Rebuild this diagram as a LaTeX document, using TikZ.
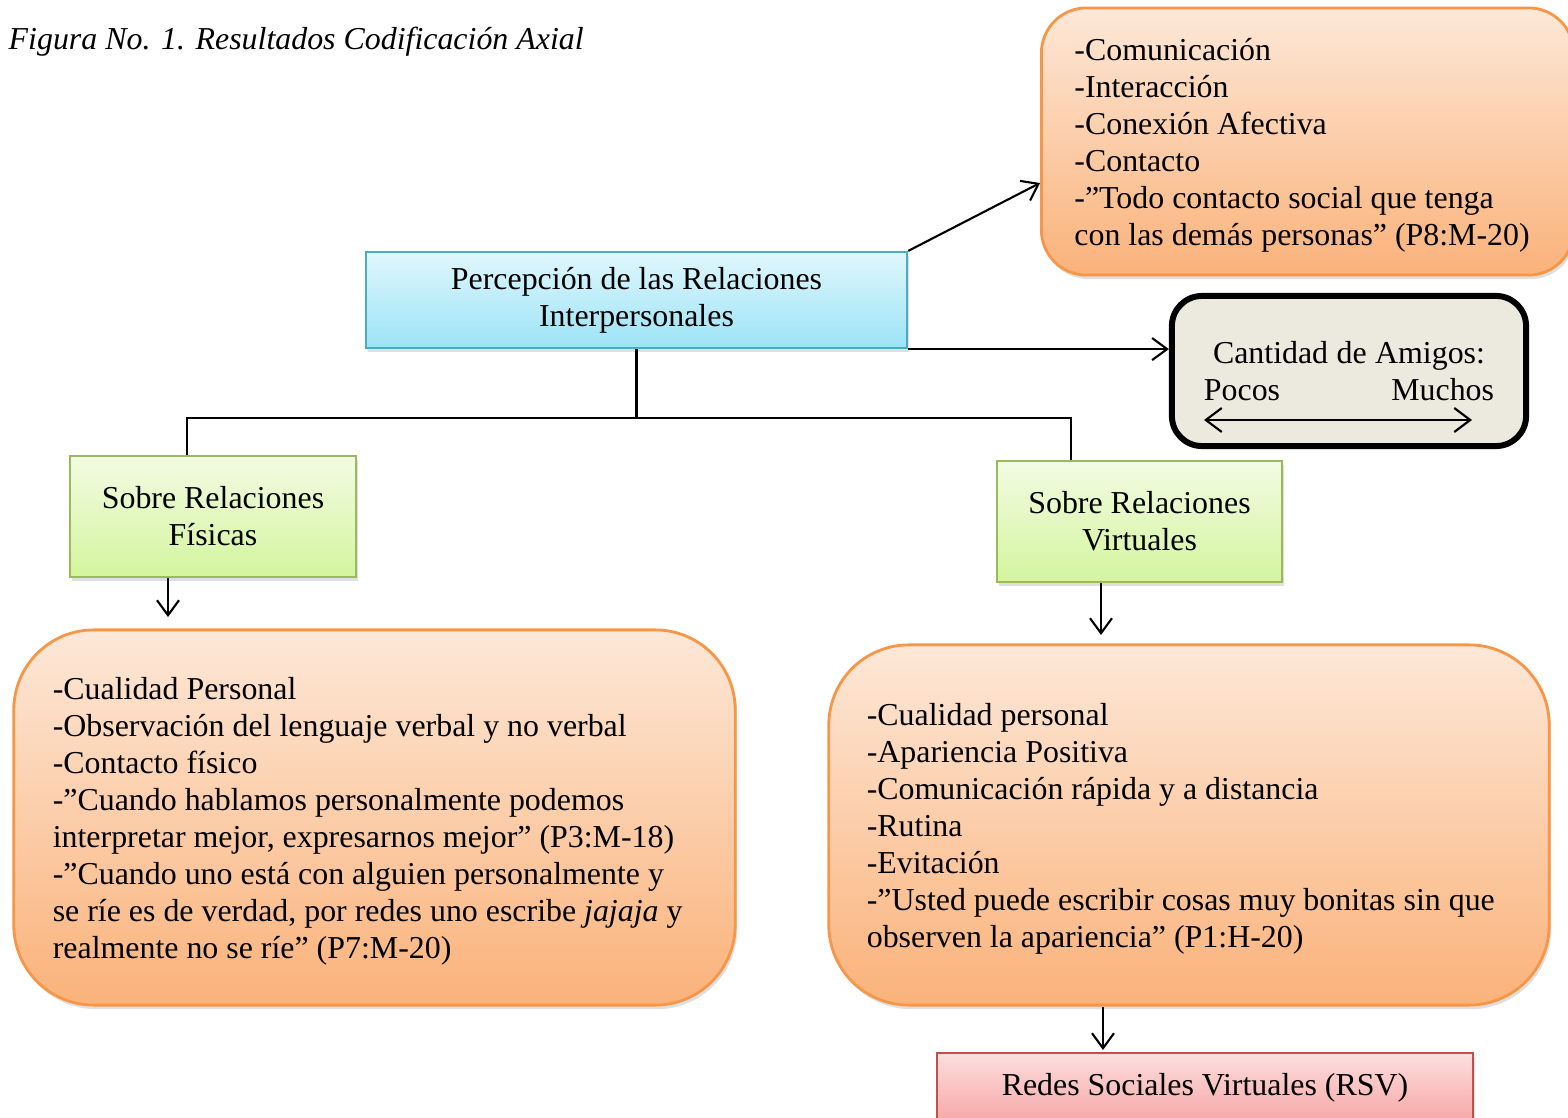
\documentclass[tikz,border=0pt]{standalone}
\usepackage{fontspec}
\setmainfont{Liberation Serif}
\usetikzlibrary{arrows.meta,shadows}

\definecolor{naranjaBorde}{HTML}{F79646}
\definecolor{naranjaArriba}{HTML}{FDE8D8}
\definecolor{naranjaAbajo}{HTML}{FAB27A}
\definecolor{azulBorde}{HTML}{4BACC6}
\definecolor{azulArriba}{HTML}{E0F7FD}
\definecolor{azulAbajo}{HTML}{9CE3F6}
\definecolor{verdeBorde}{HTML}{9BBB59}
\definecolor{verdeArriba}{HTML}{F2FBE3}
\definecolor{verdeAbajo}{HTML}{D4F59E}
\definecolor{rojoBorde}{HTML}{C0504D}
\definecolor{rojoArriba}{HTML}{FDDEDE}
\definecolor{rojoAbajo}{HTML}{F7A6A6}
\definecolor{grisFondo}{HTML}{ECE9DF}

\tikzset{
	sombra/.style={drop shadow={shadow xshift=0.02cm, shadow yshift=-0.04cm, opacity=0.25}},
	caja/.style={draw, line width=0.6pt, align=center, inner sep=0pt, sombra},
	cajaAzul/.style={caja, draw=azulBorde, top color=azulArriba, bottom color=azulAbajo},
	cajaVerde/.style={caja, draw=verdeBorde, top color=verdeArriba, bottom color=verdeAbajo},
	cajaRoja/.style={caja, draw=rojoBorde, top color=rojoArriba, bottom color=rojoAbajo},
	nota/.style={draw=naranjaBorde, line width=0.8pt, top color=naranjaArriba, bottom color=naranjaAbajo,
		align=left, inner ysep=0pt, sombra,
		execute at begin node={\spaceskip=0.25em plus 0.1em minus 0.05em\relax\rule{0pt}{8.5pt}}},
	flecha/.style={-{Straight Barb[length=1.5mm,width=2.2mm]}, line width=0.6pt},
	linea/.style={line width=0.6pt}
}

\begin{document}
\begin{tikzpicture}[x=0.01cm, y=-0.01cm, font=\fontsize{9.07}{10.5}\selectfont,
	execute at begin node={\spaceskip=0.25em plus 0.1em minus 0.05em\relax}]
	\useasboundingbox[fill=white] (0,0) rectangle (1568,1118);

	% titulo
	\node[anchor=west, inner sep=0pt, font=\fontsize{9.07}{10.5}\selectfont\itshape] (titulo) at (8,42)
		{Figura No. 1. Resultados Codificación Axial};

	% categoria central
	\node[cajaAzul, minimum width=5.41cm, minimum height=0.96cm] (percepcion) at (636.5,300)
		{Percepción de las Relaciones\\Interpersonales};

	% propiedades arriba a la derecha
	\node[nota, anchor=west, rounded corners=0.45cm, text width=4.66cm, inner xsep=0.33cm,
		minimum height=2.67cm] (propiedades) at (1040,141.5)
		{-Comunicación\\-Interacción\\-Conexión Afectiva\\-Contacto\\
		 -”Todo contacto social que tenga\\con las demás personas” (P8:M-20)};

	% cantidad de amigos
	\node[draw, line width=1.7pt, fill=grisFondo, rounded corners=0.3cm, align=center,
		text width=2.9cm, minimum width=3.54cm, minimum height=1.5cm] (amigos) at (1349,371)
		{Cantidad de Amigos:\\Pocos\hfill Muchos};
	\coordinate (pocos) at (1204,420);
	\coordinate (muchos) at (1472,420);
	\draw[{Straight Barb[length=1.6mm,width=2.4mm]}-{Straight Barb[length=1.6mm,width=2.4mm]}, line width=0.6pt]
		(pocos) -- (muchos);

	% subcategorias
	\node[cajaVerde, minimum width=2.86cm, minimum height=1.21cm] (fisicas) at (213,516.5)
		{Sobre Relaciones\\Físicas};
	\node[cajaVerde, minimum width=2.85cm, minimum height=1.21cm] (virtuales) at (1139.5,521.5)
		{Sobre Relaciones\\Virtuales};

	% propiedades de cada subcategoria
	\node[nota, rounded corners=0.8cm, text width=6.43cm, inner xsep=0.39cm,
		minimum height=3.75cm] (notaFisicas) at (374.5,817.5)
		{-Cualidad Personal\\-Observación del lenguaje verbal y no verbal\\-Contacto físico\\
		 -”Cuando hablamos personalmente podemos\\interpretar mejor, expresarnos mejor” (P3:M-18)\\
		 -”Cuando uno está con alguien personalmente y\\se ríe es de verdad, por redes uno escribe \emph{jajaja} y\\
		 realmente no se ríe” (P7:M-20)};
	\node[nota, rounded corners=0.8cm, text width=6.44cm, inner xsep=0.38cm,
		minimum height=3.6cm] (notaVirtuales) at (1189,825)
		{-Cualidad personal\\-Apariencia Positiva\\-Comunicación rápida y a distancia\\-Rutina\\-Evitación\\
		 -”Usted puede escribir cosas muy bonitas sin que\\observen la apariencia” (P1:H-20)};

	% resultado
	\node[cajaRoja, minimum width=5.36cm, minimum height=0.7cm] (rsv) at (1205,1088)
		{Redes Sociales Virtuales (RSV)};

	% conectores
	\draw[flecha] (percepcion.north east) -- (propiedades.west |- 0,183);
	\draw[flecha] (percepcion.south east) -- (percepcion.south east -| amigos.west);

	\coordinate (ramaIzq) at (187,418);
	\coordinate (ramaDer) at (1071,418);
	\draw[linea] (percepcion.south) -- (percepcion.south |- ramaIzq);
	\draw[linea] (fisicas.north -| ramaIzq) -- (ramaIzq) -- (ramaDer) -- (virtuales.north -| ramaDer);

	\coordinate (puntaFisicas) at (168,617);
	\coordinate (puntaVirtuales) at (1101,635);
	\coordinate (puntaRsv) at (1103,1050);
	\draw[flecha] (fisicas.south -| puntaFisicas) -- (puntaFisicas);
	\draw[flecha] (virtuales.south -| puntaVirtuales) -- (puntaVirtuales);
	\draw[flecha] (notaVirtuales.south -| puntaRsv) -- (puntaRsv);
\end{tikzpicture}
\end{document}
